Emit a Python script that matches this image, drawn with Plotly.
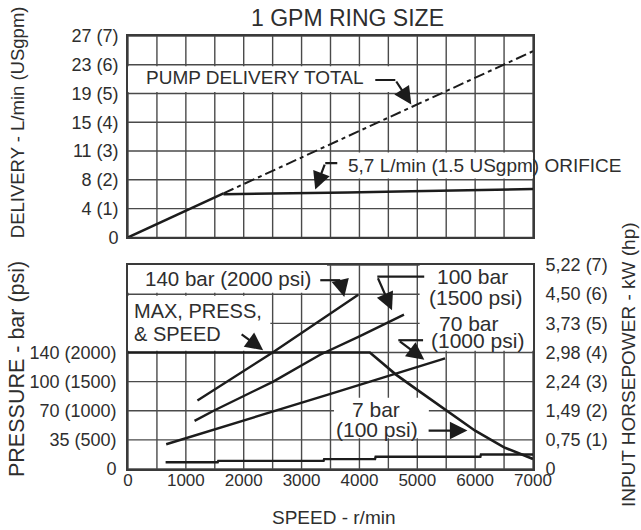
import plotly.graph_objects as go

# ---------------- data ----------------
speed_tick_vals = list(range(0, 7001, 500))
speed_tick_labels = ["0", "", "1000", "", "2000", "", "3000", "", "4000", "", "5000", "", "6000", "", "7000"]

delivery_tick_vals = [0, 1, 2, 3, 4, 5, 6, 7]
delivery_tick_labels = ["0", "4 (1)", "8 (2)", "11 (3)", "15 (4)", "19 (5)", "23 (6)", "27 (7)"]

pressure_tick_vals = [0, 35, 70, 105, 140, 175, 210, 245]
pressure_tick_labels = ["0", "35 (500)", "70 (1000)", "100 (1500)", "140 (2000)", "", "", ""]

power_tick_vals = [0, 1, 2, 3, 4, 5, 6, 7]
power_tick_labels = ["0", "0,75 (1)", "1,49 (2)", "2,24 (3)", "2,98 (4)", "3,73 (5)", "4,50 (6)", "5,22 (7)"]

# top chart: delivery (USgpm) vs speed (r/min)
total_speed = [0, 1650, 7000]
total_gpm = [0, 1.53, 6.47]
orifice_speed = [1650, 2700, 3800, 4900, 5900, 7000]
orifice_gpm = [1.5, 1.52, 1.56, 1.6, 1.64, 1.68]

# bottom chart: input horsepower (hp) vs speed
hp140_speed = [1200, 2500, 3980]
hp140 = [2.35, 4.0, 5.98]
hp100_speed = [1150, 1480, 2510, 3320, 4000, 4770]
hp100 = [1.65, 2.0, 3.0, 3.92, 4.55, 5.3]
hp70_speed = [660, 1000, 2500, 3500, 5480]
hp70 = [0.85, 1.06, 1.97, 2.58, 3.8]
hp7_speed = [650, 1550, 1560, 3380, 3390, 4270, 4280, 6090, 6100, 7000]
hp7 = [0.23, 0.23, 0.28, 0.28, 0.34, 0.34, 0.42, 0.42, 0.5, 0.5]

# bottom chart: max pressure (bar) vs speed
maxp_speed = [0, 4180, 4400, 4620, 5000, 5500, 6000, 6500, 7000]
maxp_bar = [140, 140, 127, 114, 95, 70, 46, 26, 12]

# ---------------- styling ----------------
INK = "#1c1c1c"
TXT = "#2e2e2e"
GRID = "#4a4a4a"
FONT = "Liberation Sans, Arial, sans-serif"
LW = 2.4

fig = go.Figure()

def line_trace(x, y, xa, ya, dash="solid", width=LW):
    fig.add_trace(go.Scatter(x=x, y=y, xaxis=xa, yaxis=ya, mode="lines",
                             line=dict(color=INK, width=width, dash=dash),
                             hoverinfo="skip", showlegend=False))

# top chart traces
line_trace(total_speed[:2], total_gpm[:2], "x", "y", width=2.6)
line_trace(total_speed[1:], total_gpm[1:], "x", "y", dash="11px,4px,4px,4px", width=2.0)
line_trace(orifice_speed, orifice_gpm, "x", "y", width=2.6)

# bottom chart traces
line_trace(maxp_speed, maxp_bar, "x2", "y2", width=2.6)
line_trace(hp140_speed, hp140, "x2", "y3")
line_trace(hp100_speed, hp100, "x2", "y3")
line_trace(hp70_speed, hp70, "x2", "y3")
line_trace(hp7_speed, hp7, "x2", "y3")

tickfont = dict(family=FONT, size=18, color=TXT)
frame = dict(showline=True, linecolor="#3a3a3a", linewidth=1.6, mirror=True, zeroline=False,
             showgrid=False, fixedrange=True)

fig.update_layout(
    width=641, height=530,
    margin=dict(l=128, r=108, t=36, b=61),
    paper_bgcolor="white", plot_bgcolor="white",
    showlegend=False,
    xaxis=dict(domain=[0, 1], anchor="y", range=[0, 7000], tickvals=speed_tick_vals,
               showticklabels=False, ticks="", **frame),
    yaxis=dict(domain=[0.535, 1.0], anchor="x", range=[0, 7], tickvals=delivery_tick_vals,
               ticktext=delivery_tick_labels, tickfont=tickfont,
               ticks="outside", ticklen=4, tickcolor="rgba(0,0,0,0)", **frame),
    xaxis2=dict(domain=[0, 1], anchor="y2", range=[0, 7000], tickvals=speed_tick_vals,
                ticktext=speed_tick_labels, ticks="", ticklabelstandoff=-5,
                tickfont=dict(family=FONT, size=17, color=TXT), **frame),
    yaxis2=dict(domain=[0, 0.471], anchor="x2", range=[0, 245], tickvals=pressure_tick_vals,
                ticktext=pressure_tick_labels, tickfont=tickfont,
                ticks="outside", ticklen=6, tickcolor="rgba(0,0,0,0)", **frame),
    yaxis3=dict(overlaying="y2", anchor="x2", side="right", range=[0, 7], tickvals=power_tick_vals,
                ticktext=power_tick_labels, tickfont=tickfont, showgrid=False, showline=False,
                zeroline=False, ticks="outside", ticklen=8, tickcolor="rgba(0,0,0,0)",
                fixedrange=True),
)

# grid drawn as shapes below the traces, at the axes' tick positions
def gline(xref, yref, x0, y0, x1, y1):
    fig.add_shape(type="line", xref=xref, yref=yref, x0=x0, y0=y0, x1=x1, y1=y1,
                  line=dict(color=GRID, width=1.4), layer="below")

for s in speed_tick_vals:
    gline("x", "y", s, 0, s, 7)
    gline("x2", "y2", s, 0, s, 245)
for d in delivery_tick_vals:
    gline("x", "y", 0, d, 7000, d)
for p in pressure_tick_vals:
    gline("x2", "y2", 0, p, 7000, p)

# white label boxes that interrupt the grid
def box(xref, yref, x0, x1, y0, y1):
    fig.add_shape(type="rect", xref=xref, yref=yref, x0=x0, x1=x1, y0=y0, y1=y1,
                  fillcolor="white", line=dict(width=0), layer="below")

box("x", "y", -50, 4800, 5.05, 5.95)
box("x", "y", 3570, 7100, 2.05, 2.95)
box("x2", "y2", -50, 3440, 211.8, 250)
box("x2", "y2", -50, 2460, 142.1, 208.2)
box("x2", "y2", 5040, 7100, 142.1, 250)
box("x2", "y2", 3560, 5200, 36.8, 85.7)

# text labels
def label(text, x, y, xref, yref, size=19, xanchor="center"):
    fig.add_annotation(text=text, x=x, y=y, xref=xref, yref=yref, showarrow=False,
                       xanchor=xanchor, yanchor="middle", borderpad=0,
                       font=dict(family=FONT, size=size, color=TXT))

label("PUMP DELIVERY TOTAL", 2198, 5.55, "x", "y", 19)
label("5,7 L/min (1.5 USgpm) ORIFICE", 6169, 2.5, "x", "y", 19)
label("140 bar (2000 psi)", 1730, 6.55, "x2", "y3", 20.5)
label("MAX, PRESS,", 87, 5.42, "x2", "y3", 20, "left")
label("&amp; SPEED", 87, 4.63, "x2", "y3", 20, "left")
label("100 bar", 5953, 6.6, "x2", "y3", 21)
label("(1500 psi)", 6005, 5.87, "x2", "y3", 21)
label("70 bar", 5900, 5.0, "x2", "y3", 21)
label("(1000 psi)", 6040, 4.42, "x2", "y3", 21)
label("7 bar", 4292, 2.05, "x2", "y3", 21)
label("(100 psi)", 4300, 1.36, "x2", "y3", 21)

# leaders: straight segments + arrows
def seg(xref, yref, x0, y0, x1, y1):
    fig.add_shape(type="line", xref=xref, yref=yref, x0=x0, y0=y0, x1=x1, y1=y1,
                  line=dict(color=INK, width=2.2), layer="above")

def arrow(xref, yref, xs, ys, xt, yt):
    fig.add_annotation(text="", x=xt, y=yt, ax=xs, ay=ys, xref=xref, yref=yref,
                       axref=xref, ayref=yref, showarrow=True, arrowhead=2,
                       arrowsize=1.6, arrowwidth=2.2, arrowcolor=INK)

seg("x", "y", 4274, 5.47, 4620, 5.47)
arrow("x", "y", 4620, 5.47, 4897, 4.62)
seg("x", "y", 3409, 2.58, 3617, 2.58)
arrow("x", "y", 3409, 2.58, 3236, 1.66)

seg("x2", "y3", 3323, 6.48, 3669, 6.48)
arrow("x2", "y3", 3669, 6.48, 3738, 5.9)
seg("x2", "y3", 4309, 6.6, 5120, 6.6)
arrow("x2", "y3", 4309, 6.6, 4563, 5.45)
seg("x2", "y3", 4672, 4.42, 5100, 4.42)
arrow("x2", "y3", 4672, 4.42, 5122, 3.75)
arrow("x2", "y3", 1938, 4.66, 2336, 4.08)
arrow("x2", "y3", 5170, 1.32, 5867, 1.32)

# title and axis titles
def ptext(text, x, y, size, angle=0):
    fig.add_annotation(text=text, x=x, y=y, xref="paper", yref="paper", showarrow=False,
                       xanchor="center", yanchor="middle", textangle=angle,
                       font=dict(family=FONT, size=size, color=TXT))

ptext("1 GPM RING SIZE", 0.541, 1.0416, 23)
ptext("DELIVERY - L/min (USgpm)", -0.274, 0.801, 18.5, -90)
ptext("PRESSURE - bar (psi)", -0.274, 0.231, 21.5, -90)
ptext("INPUT HORSEPOWER - kW (hp)", 1.2346, 0.240, 19, -90)
ptext("SPEED - r/min", 0.509, -0.113, 19)

fig.write_html("out.html", config={"displayModeBar": False},
               post_script="document.body.style.margin='0';")
